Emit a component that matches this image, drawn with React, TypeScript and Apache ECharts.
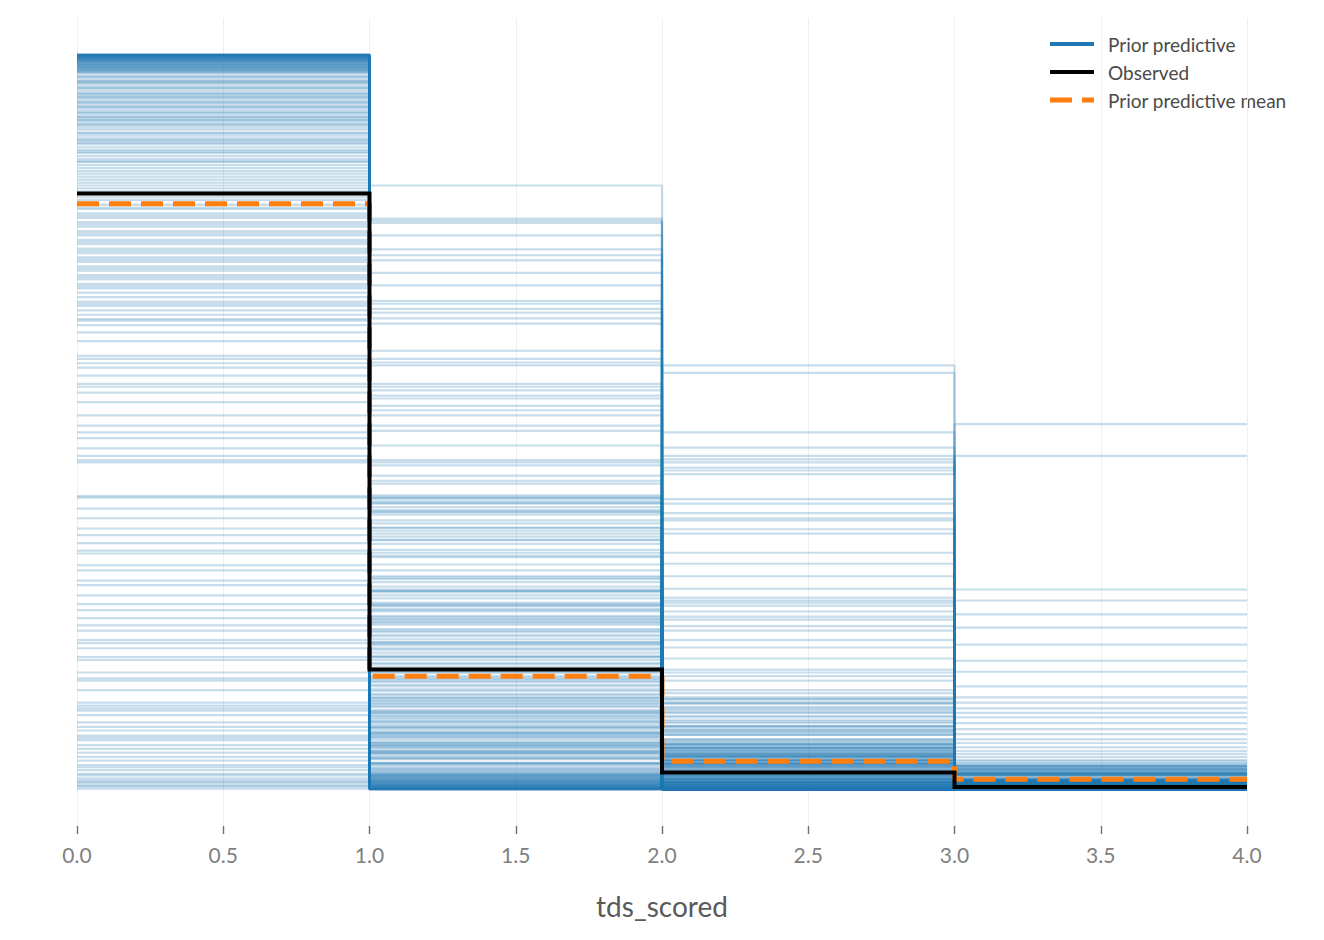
import React, { useEffect, useRef } from "react";
import * as echarts from "echarts";

// Bin edges of the discrete histogram (tds_scored = 0,1,2,3)
const binEdges = [0, 1, 2, 3, 4];

// Prior predictive samples: density of each bin, one entry per sample
const priorBin0 = [
  1.0, 0.998, 0.996, 0.995, 0.994, 0.992, 0.991, 0.99, 0.988, 0.987, 0.986, 0.985, 0.984, 0.983, 0.982, 0.981, 0.98, 0.979, 0.978, 0.977, 0.976, 0.975, 0.997, 0.993, 0.989,
  1.0, 1.0, 1.0, 0.999, 0.999, 0.998, 0.997, 0.996, 0.994, 0.992,
  0.972, 0.969, 0.966, 0.963, 0.96, 0.957, 0.954, 0.951, 0.948, 0.945, 0.942, 0.94, 0.937, 0.934, 0.931, 0.928, 0.925, 0.922, 0.919, 0.916, 0.913, 0.91, 0.907, 0.904, 0.901, 0.898, 0.964, 0.947, 0.929, 0.911,
  0.894, 0.89, 0.886, 0.882, 0.878, 0.874, 0.87, 0.866, 0.862, 0.858, 0.854, 0.85, 0.846, 0.842, 0.838, 0.834, 0.83, 0.826, 0.822, 0.818, 0.814, 0.81, 0.806, 0.802, 0.88,
  0.796, 0.79, 0.784, 0.778, 0.772, 0.766, 0.76, 0.754, 0.748, 0.742, 0.736, 0.73, 0.724, 0.718, 0.712, 0.706, 0.7, 0.694, 0.688, 0.682, 0.676, 0.67, 0.664, 0.658, 0.652, 0.646, 0.64, 0.632, 0.622, 0.61,
  0.59, 0.586, 0.58, 0.574, 0.563, 0.552, 0.548, 0.54, 0.527, 0.509, 0.495, 0.486, 0.478, 0.464, 0.454, 0.448, 0.445,
  0.399, 0.397, 0.382, 0.369, 0.355, 0.346, 0.335, 0.325, 0.321, 0.305, 0.298, 0.284, 0.278, 0.264, 0.252, 0.244, 0.233, 0.223, 0.216, 0.203, 0.199, 0.192, 0.18, 0.176, 0.159, 0.151, 0.148, 0.135, 0.118, 0.114, 0.11, 0.107, 0.101, 0.091, 0.08, 0.073, 0.067, 0.06, 0.05, 0.039, 0.033, 0.026, 0.019, 0.01, 0.005, 0.001,
  0.004, 0.012, 0.021, 0.03, 0.044, 0.055, 0.07, 0.085, 0.015, 0.008,
  1.0, 1.0, 1.0, 1.0, 0.999, 0.999, 0.998, 0.998, 0.997, 0.996, 0.995, 0.994, 0.993, 0.991, 0.99, 0.988, 0.986, 0.984, 0.982, 0.979,
  0.97, 0.962, 0.955, 0.943, 0.935, 0.921, 0.915, 0.905, 0.893, 0.884, 0.868, 0.855,
  0.792, 0.781, 0.769, 0.757, 0.745, 0.733, 0.721, 0.709, 0.697, 0.685, 0.661, 0.638,
];
const priorBin1 = [
  0.0, 0.002, 0.004, 0.005, 0.006, 0.008, 0.009, 0.01, 0.012, 0.011, 0.014, 0.013, 0.016, 0.015, 0.018, 0.017, 0.02, 0.019, 0.02, 0.023, 0.022, 0.025, 0.003, 0.007, 0.011,
  0.0, 0.0, 0.0, 0.001, 0.001, 0.002, 0.003, 0.004, 0.006, 0.008,
  0.026, 0.029, 0.032, 0.035, 0.036, 0.041, 0.042, 0.045, 0.048, 0.051, 0.052, 0.056, 0.057, 0.06, 0.063, 0.064, 0.067, 0.07, 0.073, 0.074, 0.077, 0.08, 0.083, 0.084, 0.087, 0.09, 0.034, 0.049, 0.063, 0.077,
  0.092, 0.096, 0.098, 0.102, 0.106, 0.108, 0.112, 0.116, 0.118, 0.122, 0.124, 0.128, 0.13, 0.134, 0.136, 0.14, 0.142, 0.146, 0.148, 0.152, 0.154, 0.158, 0.16, 0.162, 0.104,
  0.166, 0.172, 0.176, 0.182, 0.186, 0.192, 0.196, 0.2, 0.204, 0.21, 0.214, 0.218, 0.224, 0.228, 0.232, 0.236, 0.242, 0.246, 0.25, 0.254, 0.26, 0.264, 0.268, 0.272, 0.276, 0.282, 0.286, 0.29, 0.298, 0.306,
  0.316, 0.318, 0.322, 0.326, 0.334, 0.34, 0.344, 0.348, 0.356, 0.366, 0.374, 0.378, 0.384, 0.39, 0.396, 0.398, 0.4,
  0.339, 0.352, 0.356, 0.362, 0.377, 0.38, 0.389, 0.392, 0.396, 0.416, 0.42, 0.427, 0.441, 0.445, 0.448, 0.468, 0.488, 0.495, 0.509, 0.516, 0.522, 0.532, 0.536, 0.543, 0.548, 0.552, 0.577, 0.581, 0.586, 0.597, 0.634, 0.641, 0.649, 0.654, 0.661, 0.665, 0.686, 0.703, 0.72, 0.727, 0.735, 0.754, 0.771, 0.774, 0.777, 0.822,
  0.105, 0.18, 0.12, 0.23, 0.15, 0.27, 0.2, 0.25, 0.05, 0.06,
  0, 0, 0, 0, 0.001, 0.001, 0.002, 0.002, 0.003, 0.004, 0.005, 0.006, 0.007, 0.009, 0.01, 0.012, 0.014, 0.016, 0.018, 0.021,
  0.028, 0.036, 0.043, 0.053, 0.059, 0.071, 0.076, 0.085, 0.093, 0.1, 0.114, 0.125,
  0.17, 0.18, 0.19, 0.198, 0.208, 0.216, 0.226, 0.234, 0.244, 0.252, 0.27, 0.288,
];
const priorBin2 = [
  0, 0, 0, 0, 0, 0, 0, 0, 0, 0.002, 0, 0.002, 0, 0.002, 0, 0.002, 0, 0.002, 0.002, 0, 0.002, 0, 0, 0, 0,
  0, 0, 0, 0, 0, 0, 0, 0, 0, 0,
  0.002, 0.002, 0.002, 0.002, 0.004, 0.002, 0.004, 0.004, 0.004, 0.004, 0.006, 0.004, 0.006, 0.006, 0.006, 0.008, 0.008, 0.008, 0.006, 0.01, 0.01, 0.008, 0.01, 0.01, 0.012, 0.01, 0.002, 0.004, 0.008, 0.01,
  0.012, 0.012, 0.014, 0.014, 0.014, 0.016, 0.016, 0.016, 0.018, 0.018, 0.02, 0.02, 0.02, 0.02, 0.022, 0.022, 0.024, 0.024, 0.026, 0.026, 0.028, 0.028, 0.03, 0.03, 0.014,
  0.032, 0.032, 0.034, 0.034, 0.036, 0.036, 0.038, 0.038, 0.04, 0.04, 0.042, 0.044, 0.044, 0.046, 0.046, 0.048, 0.048, 0.05, 0.052, 0.054, 0.054, 0.056, 0.056, 0.058, 0.06, 0.06, 0.062, 0.064, 0.066, 0.068,
  0.074, 0.076, 0.078, 0.08, 0.082, 0.086, 0.086, 0.09, 0.094, 0.1, 0.104, 0.108, 0.11, 0.116, 0.118, 0.122, 0.123,
  0.203, 0.193, 0.222, 0.178, 0.216, 0.231, 0.163, 0.235, 0.242, 0.159, 0.25, 0.254, 0.154, 0.257, 0.261, 0.148, 0.273, 0.29, 0.135, 0.307, 0.322, 0.131, 0.348, 0.354, 0.125, 0.366, 0.369, 0.118, 0.376, 0.389, 0.112, 0.395, 0.105, 0.098, 0.092, 0.085, 0.08, 0.074, 0.068, 0.062, 0.056, 0.05, 0.045, 0.04, 0.035, 0.03,
  0.577, 0.567, 0.486, 0.465, 0.454, 0.449, 0.445, 0.438, 0.434, 0.429,
  0, 0, 0, 0, 0, 0, 0, 0, 0, 0, 0, 0, 0, 0, 0, 0, 0, 0, 0, 0,
  0.002, 0.002, 0.002, 0.004, 0.006, 0.008, 0.008, 0.01, 0.012, 0.014, 0.016, 0.018,
  0.032, 0.034, 0.035, 0.038, 0.04, 0.043, 0.045, 0.047, 0.049, 0.052, 0.057, 0.062,
];
const priorBin3 = [
  0, 0, 0, 0, 0, 0, 0, 0, 0, 0, 0, 0, 0, 0, 0, 0, 0, 0, 0, 0, 0, 0, 0, 0, 0,
  0, 0, 0, 0, 0, 0, 0, 0, 0, 0,
  0, 0, 0, 0, 0, 0, 0, 0, 0, 0, 0, 0, 0, 0, 0, 0, 0, 0, 0.002, 0, 0, 0.002, 0, 0.002, 0, 0.002, 0, 0, 0, 0.002,
  0.002, 0.002, 0.002, 0.002, 0.002, 0.002, 0.002, 0.002, 0.002, 0.002, 0.002, 0.002, 0.004, 0.004, 0.004, 0.004, 0.004, 0.004, 0.004, 0.004, 0.004, 0.004, 0.004, 0.006, 0.002,
  0.006, 0.006, 0.006, 0.006, 0.006, 0.006, 0.006, 0.008, 0.008, 0.008, 0.008, 0.008, 0.008, 0.008, 0.01, 0.01, 0.01, 0.01, 0.01, 0.01, 0.01, 0.01, 0.012, 0.012, 0.012, 0.012, 0.012, 0.014, 0.014, 0.016,
  0.02, 0.02, 0.02, 0.02, 0.021, 0.022, 0.022, 0.022, 0.023, 0.025, 0.027, 0.028, 0.028, 0.03, 0.032, 0.032, 0.032,
  0.052, 0.038, 0.057, 0.034, 0.048, 0.063, 0.03, 0.068, 0.075, 0.026, 0.082, 0.09, 0.025, 0.098, 0.104, 0.022, 0.11, 0.118, 0.02, 0.125, 0.044, 0.019, 0.04, 0.036, 0.018, 0.032, 0.028, 0.016, 0.024, 0.015, 0.014, 0.012, 0.011, 0.01, 0.009, 0.008, 0.007, 0.006, 0.005, 0.004, 0.004, 0.003, 0.002, 0.002, 0.001, 0.0,
  0.272, 0.16, 0.257, 0.238, 0.22, 0.197, 0.175, 0.14, 0.497, 0.454,
  0, 0, 0, 0, 0, 0, 0, 0, 0, 0, 0, 0, 0, 0, 0, 0, 0, 0, 0, 0,
  0, 0, 0, 0, 0, 0, 0, 0, 0.002, 0.002, 0.002, 0.002,
  0.006, 0.006, 0.006, 0.007, 0.008, 0.008, 0.008, 0.01, 0.01, 0.011, 0.012, 0.012,
];

const observed = [0.811, 0.163, 0.023, 0.003];
const priorMean = [0.797, 0.154, 0.038, 0.0136];

const legendLabels = ["Prior predictive", "Observed", "Prior predictive mean"];

const BLUE = "#1f77b4";
const ORANGE = "#ff7f0e";
const FONT = "'Source Sans Pro', Lato, 'Noto Sans', sans-serif";

function stepData(heights: number[]) {
  const pts = heights.map((h, i) => [binEdges[i], h]);
  pts.push([binEdges[binEdges.length - 1], heights[heights.length - 1]]);
  return pts;
}

export default function App() {
  const ref = useRef<HTMLDivElement>(null);
  useEffect(() => {
    document.body.style.margin = "0";
    if (!ref.current) return;
    const chart = echarts.init(ref.current, undefined, { renderer: "svg" });

    const series: any[] = [];
    for (let i = 0; i < priorBin0.length; i++) {
      series.push({
        type: "line",
        name: legendLabels[0],
        step: "end",
        data: stepData([priorBin0[i], priorBin1[i], priorBin2[i], priorBin3[i]]),
        symbol: "none",
        silent: true,
        z: 2,
        lineStyle: { color: BLUE, width: 2.2, opacity: 0.25, cap: "butt" },
      });
    }
    series.push({
      type: "line",
      name: legendLabels[2],
      step: "end",
      data: stepData(priorMean),
      symbol: "none",
      silent: true,
      z: 3,
      lineStyle: { color: ORANGE, width: 5, type: [22, 10], cap: "butt" },
    });
    series.push({
      type: "line",
      name: legendLabels[1],
      step: "end",
      data: stepData(observed),
      symbol: "none",
      silent: true,
      z: 4,
      lineStyle: { color: "#000000", width: 4, cap: "butt", join: "miter" },
    });

    const lx0 = 1050;
    const lx1 = 1094;
    const ly = [44, 72, 100];

    chart.setOption({
      animation: false,
      textStyle: { fontFamily: FONT },
      grid: { left: 77, right: 77, top: 18, bottom: 114, containLabel: false },
      xAxis: {
        type: "value",
        min: 0,
        max: 4,
        interval: 0.5,
        name: "tds_scored",
        nameLocation: "middle",
        nameGap: 66,
        nameTextStyle: { fontSize: 28, color: "#5a5a5a", fontFamily: FONT },
        axisLine: { show: false, onZero: false },
        axisTick: { show: true, length: 8, lineStyle: { color: "#707070", width: 1.4 } },
        axisLabel: {
          margin: 18,
          fontSize: 21,
          color: "#808080",
          fontFamily: FONT,
          formatter: (v: number) => v.toFixed(1),
        },
        splitLine: { show: true, lineStyle: { color: "#efefef", width: 1 } },
      },
      yAxis: {
        type: "value",
        min: -0.05,
        max: 1.05,
        show: false,
        splitLine: { show: false },
      },
      graphic: [
        { type: "line", shape: { x1: lx0, y1: ly[0], x2: lx1, y2: ly[0] }, style: { stroke: BLUE, lineWidth: 4 } },
        { type: "line", shape: { x1: lx0, y1: ly[1], x2: lx1, y2: ly[1] }, style: { stroke: "#000", lineWidth: 4 } },
        {
          type: "line",
          shape: { x1: lx0, y1: ly[2], x2: lx1, y2: ly[2] },
          style: { stroke: ORANGE, lineWidth: 5, lineDash: [22, 10] },
        },
        ...legendLabels.map((t, i) => ({
          type: "text",
          x: 1108,
          y: ly[i],
          style: {
            text: t,
            fill: "#4a4a4a",
            fontSize: 19,
            fontFamily: FONT,
            verticalAlign: "middle",
            align: "left",
          },
        })),
      ],
      series,
    });
    return () => chart.dispose();
  }, []);
  return <div ref={ref} style={{ width: 1324, height: 940 }} />;
}
